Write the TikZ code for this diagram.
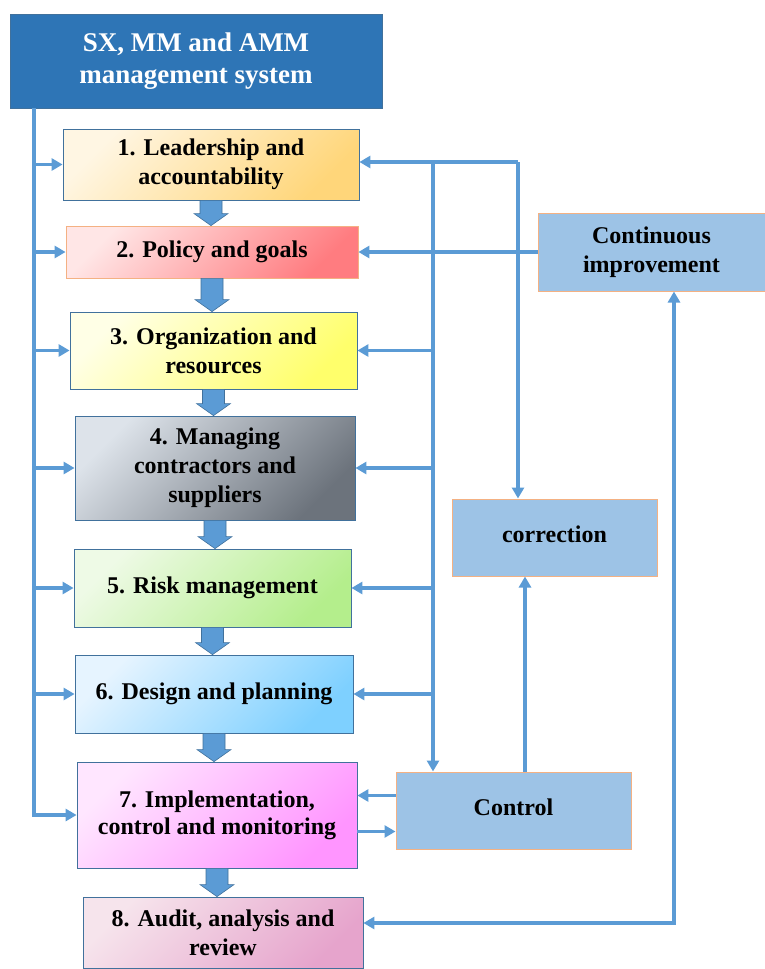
\documentclass[tikz,border=0pt]{standalone}
\usepackage{fontspec}
\setmainfont{Liberation Serif}
\usetikzlibrary{arrows.meta,calc}
\definecolor{lnblue}{HTML}{5B9BD5}
\definecolor{bdblue}{HTML}{41719C}
\definecolor{bdorange}{HTML}{F4B183}
\definecolor{hdrblue}{HTML}{2E75B6}
\definecolor{sidefill}{HTML}{9DC3E6}
\definecolor{aL}{HTML}{FFF6E3}\definecolor{aR}{HTML}{FFD67A}
\definecolor{bL}{HTML}{FFE6E6}\definecolor{bR}{HTML}{FF7C80}
\definecolor{cL}{HTML}{FFFFE6}\definecolor{cR}{HTML}{FFFF6B}
\definecolor{dL}{HTML}{DDE3EA}\definecolor{dR}{HTML}{6C737C}
\definecolor{eL}{HTML}{EEFAE6}\definecolor{eR}{HTML}{B4EE8C}
\definecolor{fL}{HTML}{E6F4FF}\definecolor{fR}{HTML}{7ED0FF}
\definecolor{gL}{HTML}{FFE6FF}\definecolor{gR}{HTML}{FF95FF}
\definecolor{hL}{HTML}{F6E4EC}\definecolor{hR}{HTML}{E6A4CC}
\newcommand{\blkarrow}[2]{%
  \path[blk] let \p1=(#1.south), \p2=(#2.north) in
    ({\x1-11pt},{\y1}) -- ({\x1+11pt},{\y1}) -- ({\x1+11pt},{\y2+12pt}) --
    ({\x1+17pt},{\y2+12pt}) -- ({\x1},{\y2}) -- ({\x1-17pt},{\y2+12pt}) --
    ({\x1-11pt},{\y2+12pt}) -- cycle;}
\begin{document}
\begin{tikzpicture}[x=1pt,y=-1pt,
  stage/.style={rectangle, draw=bdblue, line width=0.8pt, inner sep=0pt, align=center,
    font=\fontsize{24}{29}\selectfont\bfseries},
  side/.style={rectangle, draw=bdorange, fill=sidefill, line width=1pt, inner sep=0pt, align=center,
    font=\fontsize{24}{29}\selectfont\bfseries},
  ln/.style={draw=lnblue, line width=3.5pt},
  arr/.style={ln, -{Triangle[length=11pt,width=12pt]}},
  arrtwo/.style={ln, {Triangle[length=11pt,width=12pt]}-{Triangle[length=11pt,width=12pt]}},
  blk/.style={fill=lnblue, draw=bdblue, line width=0.6pt}]
\useasboundingbox (0,0) rectangle (765,969);

\node[rectangle, fill=hdrblue, draw=bdblue, line width=0.6pt, inner sep=0pt, align=center,
  text=white, font=\fontsize{27}{32}\selectfont\bfseries,
  minimum width=372pt, minimum height=94pt] (hdr) at (196,61) {SX, MM and AMM\\management system};

\node[stage, minimum width=296pt, minimum height=71pt, left color=aL, right color=aR, shading angle=45]
  (b1) at (211,164.5) {1. Leadership and\\accountability};
\node[stage, draw=bdorange, minimum width=292pt, minimum height=52pt, left color=bL, right color=bR, shading angle=45]
  (b2) at (212,252) {2. Policy and goals};
\node[stage, minimum width=287pt, minimum height=77pt, left color=cL, right color=cR, shading angle=45]
  (b3) at (213.5,350.5) {3. Organization and\\resources};
\node[stage, minimum width=280pt, minimum height=104pt, left color=dL, right color=dR, shading angle=45]
  (b4) at (215,468) {4. Managing\\contractors and\\suppliers};
\node[stage, minimum width=277pt, minimum height=78pt, left color=eL, right color=eR, shading angle=45]
  (b5) at (212.5,588) {5. Risk management};
\node[stage, minimum width=278pt, minimum height=78pt, left color=fL, right color=fR, shading angle=45]
  (b6) at (214,694) {\raisebox{3pt}{6. Design and planning}};
\node[stage, minimum width=280pt, minimum height=106pt, left color=gL, right color=gR, shading angle=45]
  (b7) at (217,815) {\raisebox{5pt}{\shortstack{7. Implementation,\\[2pt]control and monitoring}}};
\node[stage, minimum width=280pt, minimum height=71pt, left color=hL, right color=hR, shading angle=45]
  (b8) at (223,932.5) {8. Audit, analysis and\\review};

\node[side, minimum width=227pt, minimum height=78pt] (ci) at (651.5,252) {Continuous\\improvement};
\node[side, minimum width=205pt, minimum height=77pt] (corr) at (554.5,537.5) {\raisebox{7pt}{correction}};
\node[side, minimum width=235pt, minimum height=77pt] (ctrl) at (513.5,810.5) {\raisebox{7pt}{Control}};

% left feed line
\coordinate (LX) at (34,0);
\draw[arr] (hdr.south -| LX) |- (b7.west);
\foreach \b in {b1,b2,b3,b4,b5,b6} {\draw[arr] (LX |- \b.west) -- (\b.west);}

% right feedback lines
\coordinate (R1) at (433,162);
\coordinate (R2) at (518,162);
\draw[ln] (R2) -- (R1);
\draw[arr] (R1) -- (R1 -| b1.east);
\draw[arr] (R2) -- (R2 |- corr.north);
\draw[arr] (R1) -- (R1 |- ctrl.north);
\foreach \b in {b3,b4,b5,b6} {\draw[arr] (R1 |- \b.east) -- (\b.east);}

\draw[arr] (ci.west) -- (ci.west -| b2.east);
\coordinate (CX) at (525,0);
\draw[arr] (CX |- ctrl.north) -- (CX |- corr.south);
\draw[arr] ([yshift=15pt]ctrl.west) -- ([yshift=15pt]ctrl.west -| b7.east);
\draw[arr] ([yshift=-21pt]ctrl.west -| b7.east) -- ([yshift=-21pt]ctrl.west);
\coordinate (RX) at (674,923);
\draw[arrtwo] (RX -| b8.east) -- (RX) -- (RX |- ci.south);

% block arrows
\blkarrow{b1}{b2}
\blkarrow{b2}{b3}
\blkarrow{b3}{b4}
\blkarrow{b4}{b5}
\blkarrow{b5}{b6}
\blkarrow{b6}{b7}
\blkarrow{b7}{b8}
\end{tikzpicture}
\end{document}
